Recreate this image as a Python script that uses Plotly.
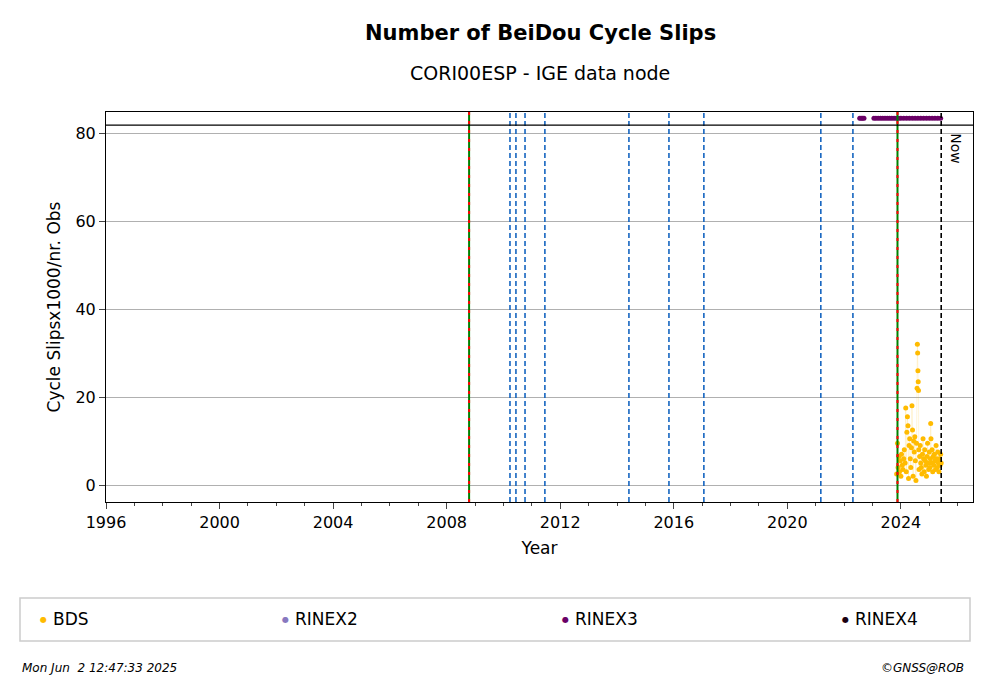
import plotly.graph_objects as go

bds_t = [2023.85,2023.88,2023.90,2023.93,2023.95,2023.98,2024.00,2024.02,2024.05,2024.07,2024.10,2024.12,2024.15,2024.17,2024.19,2024.21,2024.23,2024.25,2024.27,2024.29,2024.31,2024.33,2024.35,2024.37,2024.39,2024.41,2024.43,2024.45,2024.47,2024.49,2024.51,2024.53,2024.55,2024.57,2024.58,2024.59,2024.60,2024.61,2024.62,2024.63,2024.64,2024.66,2024.68,2024.70,2024.72,2024.74,2024.76,2024.78,2024.80,2024.82,2024.84,2024.86,2024.88,2024.90,2024.92,2024.94,2024.96,2024.98,2025.00,2025.02,2025.04,2025.05,2025.06,2025.08,2025.10,2025.12,2025.14,2025.16,2025.18,2025.20,2025.22,2025.24,2025.26,2025.28,2025.30,2025.32,2025.34,2025.36,2025.38,2025.40,2025.42]
bds_v = [2.5,9.5,4.0,6.5,3.0,5.5,2.0,7.0,4.5,3.5,6.0,8.0,5.0,17.5,3.0,12.0,15.5,13.5,1.5,9.0,10.5,6.0,4.0,8.5,18.0,12.5,2.0,10.0,7.5,11.0,5.5,1.0,9.5,22.0,32.0,30.0,26.0,23.5,21.5,8.0,3.5,6.5,9.0,5.0,4.0,2.5,7.0,10.5,6.0,3.0,8.0,5.5,4.5,2.0,6.5,9.5,5.0,3.5,7.5,4.0,6.0,14.0,10.5,5.0,8.0,3.0,6.5,4.5,7.0,5.5,3.5,9.0,6.0,4.0,7.5,5.0,3.0,6.0,4.5,7.0,5.0]
r3_t = [2022.55,2022.60,2022.65,2022.70,2023.05,2023.12,2023.20,2023.28,2023.36,2023.44,2023.52,2023.60,2023.68,2023.76,2023.84,2023.92,2024.00,2024.10,2024.20,2024.30,2024.40,2024.50,2024.60,2024.70,2024.80,2024.90,2025.00,2025.10,2025.20,2025.30,2025.40]
r3_v = [83.4]*len(r3_t)
events_blue = [2010.23,2010.44,2010.76,2011.46,2014.42,2015.83,2017.06,2021.18,2022.31]
events_rg = [2008.79,2023.88]
now = 2025.42
limit_y = 81.8
legend_names = ["BDS", "RINEX2", "RINEX3", "RINEX4"]
legend_colors = ["#FFBB00", "#8878BF", "#6A0066", "#1A0010"]

fig = go.Figure()
fig.add_trace(go.Scatter(x=bds_t, y=bds_v, mode="markers+lines", name="BDS",
    line=dict(color="rgba(255,187,0,0.15)", width=1),
    marker=dict(color="#FFBB00", size=5), showlegend=False))
fig.add_trace(go.Scatter(x=r3_t, y=r3_v, mode="markers", name="RINEX3",
    marker=dict(color="#6A0066", size=5), showlegend=False))

for x in events_blue:
    fig.add_shape(type="line", x0=x, x1=x, y0=0, y1=1, yref="y domain",
                  line=dict(color="#1565C0", width=1.6, dash="5px,3px"))
for x in events_rg:
    fig.add_shape(type="line", x0=x, x1=x, y0=0, y1=1, yref="y domain",
                  line=dict(color="green", width=2))
    fig.add_shape(type="line", x0=x, x1=x, y0=0, y1=1, yref="y domain",
                  line=dict(color="red", width=2, dash="3px,6px"))
fig.add_shape(type="line", x0=now, x1=now, y0=0, y1=1, yref="y domain",
              line=dict(color="black", width=1.6, dash="5px,3px"))
fig.add_shape(type="line", x0=0, x1=1, xref="x domain", y0=limit_y, y1=limit_y,
              line=dict(color="black", width=1.2))
fig.add_annotation(x=now, y=80.5, text="Now", textangle=90, showarrow=False,
                   xanchor="left", yanchor="top", xshift=4, font=dict(size=14, color="black"))

W, H, L, T = 867.0, 390.0, 98.0, 104.0
def px(x): return (x - L) / W
def py(y): return 1 - (y - T) / H
fig.add_annotation(x=px(532), y=py(25), xref="paper", yref="paper", text="<b>Number of BeiDou Cycle Slips</b>",
                   showarrow=False, xanchor="center", yanchor="middle", font=dict(size=21))
fig.add_annotation(x=px(532), y=py(65), xref="paper", yref="paper", text="CORI00ESP - IGE data node",
                   showarrow=False, xanchor="center", yanchor="middle", font=dict(size=19))
fig.add_shape(type="rect", xref="paper", yref="paper", x0=px(12), x1=px(962), y0=py(590), y1=py(633),
              line=dict(color="#CCCCCC", width=1.5), fillcolor="white")
xs = [35, 277, 557, 837]
for xp, n, c in zip(xs, legend_names, legend_colors):
    fig.add_annotation(x=px(xp), y=py(611), xref="paper", yref="paper", text="●", showarrow=False,
                       xanchor="center", yanchor="middle", font=dict(size=8, color=c))
    fig.add_annotation(x=px(xp + 8), y=py(611), xref="paper", yref="paper", text=n, showarrow=False,
                       xanchor="left", yanchor="middle", font=dict(size=17))
fig.add_annotation(x=px(12), y=py(660), xref="paper", yref="paper", text="<i>Mon Jun  2 12:47:33 2025</i>",
                   showarrow=False, xanchor="left", yanchor="middle", font=dict(size=12))
fig.add_annotation(x=px(958), y=py(660), xref="paper", yref="paper", text="<i>©GNSS@ROB</i>",
                   showarrow=False, xanchor="right", yanchor="middle", font=dict(size=12))

fig.update_layout(
    width=992, height=699, plot_bgcolor="white", paper_bgcolor="white",
    font=dict(family="DejaVu Sans", size=16, color="black"),
    margin=dict(l=98, r=27, t=104, b=205),
    showlegend=False,
    xaxis=dict(range=[1996, 2026.54], tickvals=list(range(1996, 2025, 4)),
               ticks="outside", ticklen=6, showgrid=False, showline=True, linecolor="black",
               mirror=True, title=dict(text="Year", standoff=10, font=dict(size=17)), tickfont=dict(size=16),
               minor=dict(dtick=1, ticks="outside", ticklen=3, tick0=1996), zeroline=False),
    yaxis=dict(range=[-3.86, 84.8], tickvals=[0, 20, 40, 60, 80], ticks="outside", ticklen=6,
               showgrid=True, gridcolor="#B0B0B0", showline=True, linecolor="black", mirror=True,
               tickfont=dict(size=16),
               title=dict(text="Cycle Slipsx1000/nr. Obs", standoff=10, font=dict(size=17)), zeroline=False),
)
fig.write_html("out.html")
